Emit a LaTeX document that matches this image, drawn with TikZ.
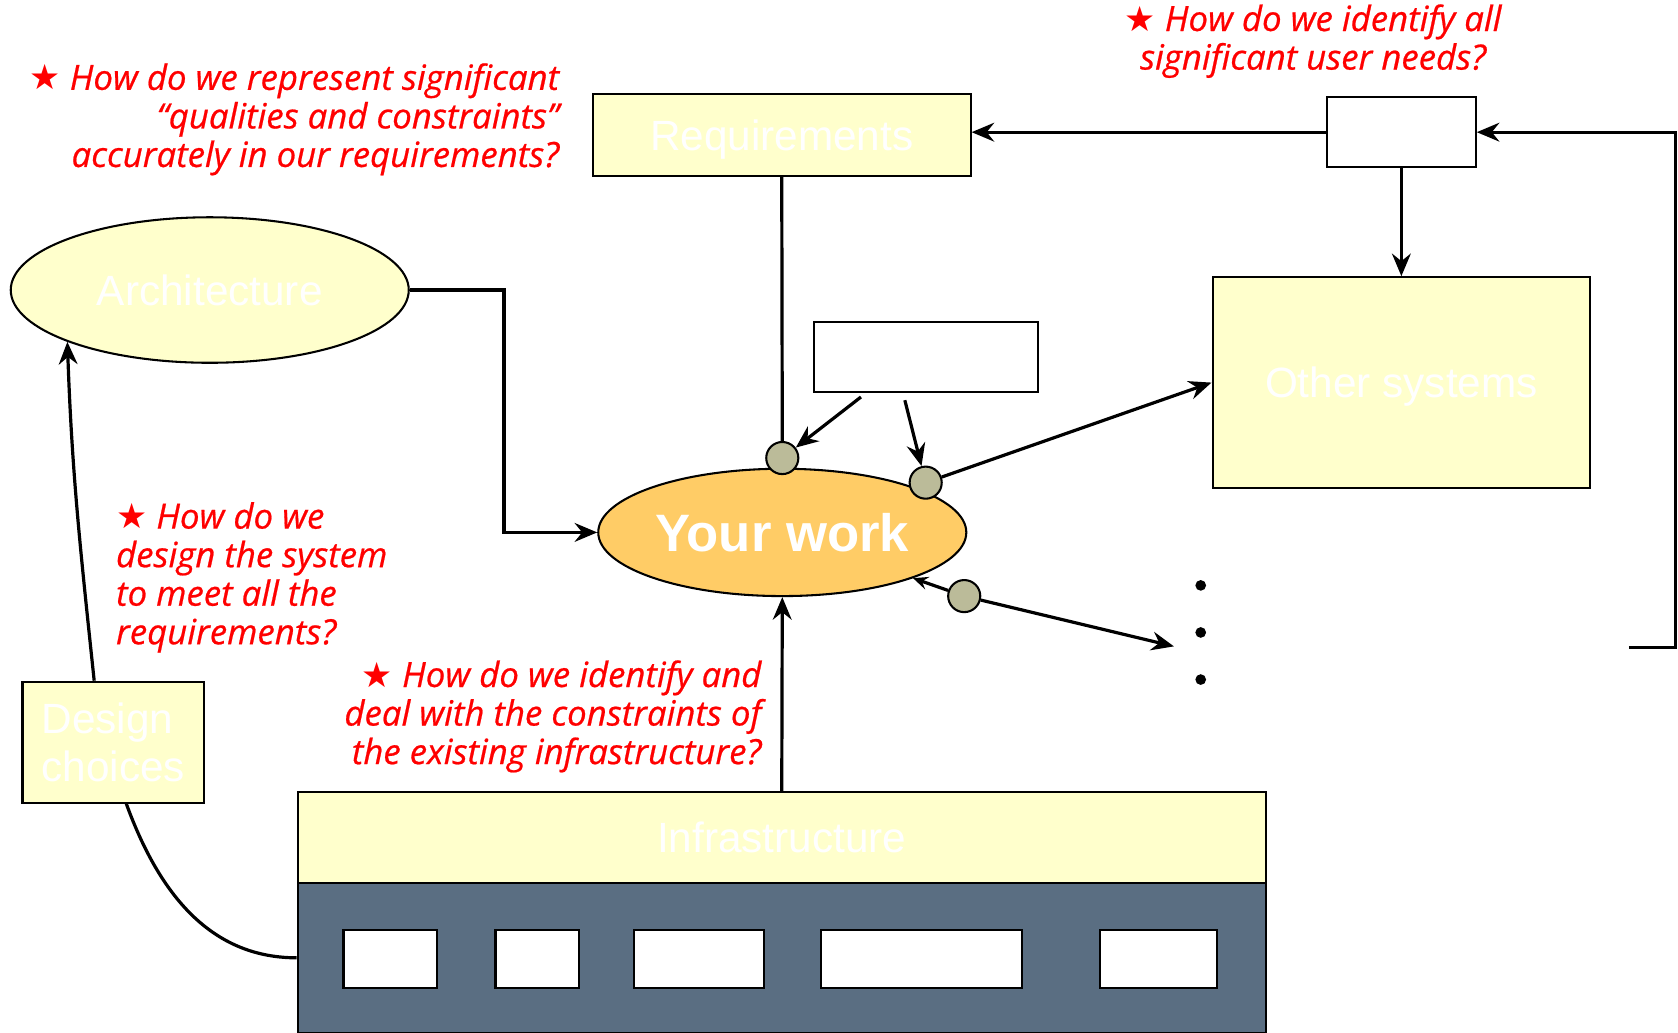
\documentclass[tikz,border=0pt]{standalone}
\usepackage{fontspec}
\setmainfont{Liberation Sans}
\newfontfamily\askfont[FakeBold=0.6]{Open Sans}
\newfontfamily\starfont{DejaVu Sans}
\usetikzlibrary{arrows.meta,shapes.geometric}
\definecolor{paleyellow}{HTML}{FFFFCC}
\definecolor{workorange}{HTML}{FFCC66}
\definecolor{slate}{HTML}{5A6E82}
\definecolor{portgray}{HTML}{BBBB99}
\newcommand{\askstar}{{\starfont\upshape ★}\ }
\begin{document}
\begin{tikzpicture}[x=0.02cm,y=-0.02cm,>={Stealth[length=12pt,width=10pt,inset=4pt]},line width=1.7pt,
  block/.style={draw,line width=1.1pt,fill=paleyellow,text=white,inner sep=0pt,text depth=0pt,font=\fontsize{22.5}{25.6}\selectfont},
  blank/.style={draw,line width=1.1pt,fill=white,inner sep=0pt},
  port/.style={circle,draw,line width=1.1pt,fill=portgray,minimum size=0.6cm,inner sep=0pt},
  question/.style={text=red,inner sep=0pt,font=\askfont\itshape\fontsize{18.5}{20.5}\selectfont},
  shorttip/.style={-{Stealth[length=8pt,width=7pt,inset=3pt]}}]
\useasboundingbox (0,0) rectangle (1568,965);

\node[block,minimum width=7.06cm,minimum height=1.54cm] (req) at (730.5,126) {Requirements};
\node[blank,minimum width=2.78cm,minimum height=1.3cm] (needs) at (1309.5,123.5) {};
\node[block,minimum width=7.06cm,minimum height=3.94cm] (other) at (1309.5,357.5) {Other systems};
\node[block,ellipse,minimum width=7.44cm,minimum height=2.72cm] (arch) at (196,271) {Architecture};
\node[block,ellipse,fill=workorange,minimum width=6.88cm,minimum height=2.38cm,font=\fontsize{28}{32}\selectfont\bfseries] (work) at (731,497.5) {Your work};
\node[blank,minimum width=4.18cm,minimum height=1.3cm] (conn) at (865.5,333.5) {};
\node[port] (p1) at (731,428) {};
\node[port] (p2) at (865,451) {};
\node[port] (p3) at (901,557) {};
\node[block,minimum width=3.4cm,minimum height=2.26cm,align=left] (dc) at (106,693.5) {Design\\choices};
\node[block,minimum width=18.1cm,minimum height=1.7cm] (infra) at (730.5,782.5) {Infrastructure};
\node[draw,line width=1.1pt,fill=slate,minimum width=18.1cm,minimum height=2.8cm] (base) at (730.5,895) {};
\foreach \x/\w [count=\i] in {364.5/1.74,502/1.56,653/2.44,861/3.76,1082.5/2.18}
  \node[blank,minimum width=\w cm,minimum height=1.08cm] (s\i) at (\x,896) {};
\foreach \y [count=\i] in {547,591,635}
  \node[circle,fill,minimum size=0.2cm,inner sep=0pt] (d\i) at (1122,\y) {};
\coordinate (more) at (1097,604);
\coordinate (loop) at (1522,605);

\draw[->] (needs.west) -- (needs.west -| req.east);
\draw[->] (needs.south) -- (other.north);
\draw[->] (loop) -- ++(44,0) |- (needs.east);
\draw (req.south) -- (p1.north);
\draw[->] ([xshift=-1.22cm,yshift=-0.08cm]conn.south) -- (p1);
\draw[->] ([xshift=-0.4cm,yshift=-0.14cm]conn.south) -- (p2);
\draw[->] (p2) -- (other.west);
\draw[shorttip] (p3) -- (work);
\draw[->] (p3) -- (more);
\draw[->] (arch.east) -- ++(88,0) |- (work.west);
\draw[->] (infra.north) -- (work.south);
\draw[->] ([xshift=-0.36cm]dc.north) to[out=96,in=-88] (arch.200);
\draw ([xshift=0.24cm]dc.south) to[out=-70,in=180] (base.west);

\node[question,align=right,anchor=base east] (q1) at (524,156) {\askstar How do we represent significant\\“qualities and constraints”\\accurately in our requirements?};
\node[question,align=center,anchor=base] (q2) at (1227,65) {\askstar How do we identify all\\significant user needs?};
\node[question,align=right,anchor=base east] (q3) at (713,714) {\askstar How do we identify and\\deal with the constraints of\\the existing infrastructure?};
\node[question,align=left,anchor=base west] (q4) at (107,602) {\askstar How do we\\design the system\\to meet all the\\requirements?};
\end{tikzpicture}
\end{document}
